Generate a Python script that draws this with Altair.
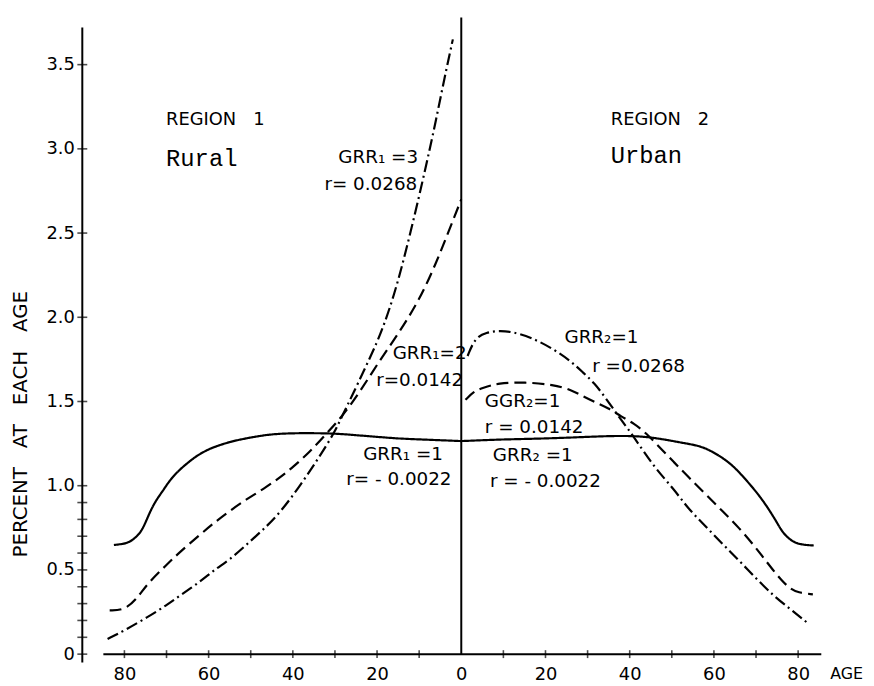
import altair as alt
import pandas as pd

# ---------------- data ----------------
# Region 1 (rural): ages counted leftwards from 0
r1_grr1_age = [82.5, 80, 78.5, 77, 76, 75, 74, 73, 72, 70.6, 69, 66.7, 64.5, 62.8, 60.5, 58.9, 55, 51, 45.5, 40,
               35, 30, 25, 20, 15, 10, 5, 0]
r1_grr1_pct = [0.648, 0.655, 0.669, 0.70, 0.73, 0.78, 0.84, 0.89, 0.93, 0.98, 1.04, 1.10, 1.145, 1.178, 1.21,
               1.228, 1.261, 1.282, 1.306, 1.312, 1.312, 1.31, 1.30, 1.29, 1.28, 1.275, 1.27, 1.265]

r1_grr2_age = [83.5, 80, 77, 74.5, 70, 66.7, 62, 58.7, 55, 51, 47, 43, 40, 36, 32, 28, 24, 20, 15, 10, 6, 3, 0]
r1_grr2_pct = [0.26, 0.26, 0.33, 0.42, 0.53, 0.61, 0.71, 0.78, 0.85, 0.92, 0.98, 1.05, 1.11, 1.20, 1.31, 1.42,
               1.56, 1.72, 1.90, 2.10, 2.32, 2.51, 2.70]

r1_grr3_age = [84, 80, 74.5, 70, 66.7, 62, 58.7, 55, 51, 47, 43, 38, 34, 30, 28, 26, 23, 20, 18, 16, 14, 12, 10,
               8, 6, 4, 2]
r1_grr3_pct = [0.09, 0.14, 0.22, 0.29, 0.35, 0.43, 0.50, 0.56, 0.65, 0.74, 0.84, 1.01, 1.16, 1.32, 1.43, 1.53,
               1.69, 1.85, 1.98, 2.13, 2.31, 2.51, 2.72, 2.94, 3.17, 3.42, 3.65]

# Region 2 (urban): ages counted rightwards from 0
r2_neg_age = [0, 5, 10, 20, 30, 35, 40.9, 45, 48.8, 52, 56.6, 59, 61.3, 64, 66, 68.5, 70.7, 72.5, 73.9, 75, 76.2,
              77.8, 79.4, 81.5, 83.7]
r2_neg_pct = [1.265, 1.27, 1.275, 1.28, 1.29, 1.295, 1.296, 1.287, 1.272, 1.257, 1.237, 1.21, 1.178, 1.13, 1.08,
              1.01, 0.943, 0.88, 0.825, 0.78, 0.727, 0.685, 0.659, 0.648, 0.645]

r2_mid_age = [1, 3, 5, 8.8, 15, 22, 26, 29, 32.3, 35, 38, 41, 44, 47, 50.5, 54, 58, 62, 66, 70, 72, 74, 76, 78,
              80, 83.5]
r2_mid_pct = [1.51, 1.56, 1.58, 1.61, 1.615, 1.60, 1.57, 1.53, 1.49, 1.46, 1.41, 1.37, 1.31, 1.23, 1.14, 1.05,
              0.95, 0.85, 0.75, 0.63, 0.565, 0.50, 0.44, 0.39, 0.365, 0.355]

r2_high_age = [1.5, 3.3, 6, 8.8, 12, 16.7, 22, 26, 29, 31.6, 34, 36, 38, 41, 45.8, 50.5, 54, 58, 62, 66, 70, 74,
               78, 82]
r2_high_pct = [1.77, 1.88, 1.91, 1.92, 1.915, 1.88, 1.81, 1.74, 1.67, 1.61, 1.53, 1.46, 1.39, 1.29, 1.11, 0.98,
               0.86, 0.76, 0.655, 0.555, 0.45, 0.35, 0.27, 0.19]

x_tick_labels = [-80, -60, -40, -20, 0, 20, 40, 60, 80]
x_minor_ticks = [-80, -70, -60, -50, -40, -30, -20, -10, 10, 20, 30, 40, 50, 60, 70, 80]
y_tick_labels = [0, 0.5, 1.0, 1.5, 2.0, 2.5, 3.0, 3.5]
y_minor_ticks = [0, 0.1, 0.2, 0.3, 0.4, 0.5, 0.6, 0.7, 0.8, 0.9, 1.0, 1.5, 2.0, 2.5, 3.0, 3.5]

NB = "\u00a0"
region_labels = ["REGION" + NB * 3 + "1", "REGION" + NB * 3 + "2"]
region_x = [-70.1, 35.5]
region_y = [3.17, 3.17]

sans_labels = ["GRR\u2081 =3", "r= 0.0268", "GRR\u2081=2", "r=0.0142",
               "GRR\u2081 =1", "r= - 0.0022", "GGR\u2082=1", "r = 0.0142", "GRR\u2082 =1", "r = - 0.0022",
               "GRR\u2082=1", "r =0.0268"]
sans_x = [-29.2, -32.5, -16.3, -20.2, -23.3, -27.3, 5.6, 5.6, 7.5, 6.8, 24.5, 31.1]
sans_y = [2.95, 2.79, 1.79, 1.63, 1.19, 1.04, 1.50, 1.35, 1.18, 1.03, 1.88, 1.71]

mono_labels = ["Rural", "Urban"]
mono_x = [-70.1, 35.5]
mono_y = [2.94, 2.96]

y_title = NB.join(["PERCENT", "", "", "AT", "", "", "EACH", "", "", "AGE"])

# ---------------- tables ----------------
rows = []
def add(curve, style, sign, ages, vals):
    for a, v in zip(ages, vals):
        rows.append({"curve": curve, "style": style, "x": sign * a, "y": v})

add("r1_1", "solid", -1, r1_grr1_age, r1_grr1_pct)
add("r1_2", "dashed", -1, r1_grr2_age, r1_grr2_pct)
add("r1_3", "dashdot", -1, r1_grr3_age, r1_grr3_pct)
add("r2_1", "solid", 1, r2_neg_age, r2_neg_pct)
add("r2_2", "dashed", 1, r2_mid_age, r2_mid_pct)
add("r2_3", "dashdot", 1, r2_high_age, r2_high_pct)
curves = pd.DataFrame(rows)

FONT = "DejaVu Sans"
MONO = "Liberation Mono"

xscale = alt.Scale(domain=[-90, 90], nice=False, zero=False)
yscale = alt.Scale(domain=[0, 3.8], nice=False, zero=False)

xaxis = alt.Axis(values=x_tick_labels, labelExpr="abs(datum.value)", domain=False, ticks=False,
                 tickSize=0, grid=False, labelFont=FONT, labelFontSize=18, labelPadding=12,
                 labelColor="black", labelFlush=False, title=None)
yaxis = alt.Axis(values=y_tick_labels,
                 labelExpr="datum.value == 0 ? '0' : format(datum.value, '.1f')",
                 domain=False, ticks=False, tickSize=0, grid=False, labelFont=FONT,
                 labelFontSize=18, labelPadding=8, labelColor="black", labelFlush=False, title=None)

X = alt.X("x:Q", scale=xscale, axis=xaxis, title=None)
Y = alt.Y("y:Q", scale=yscale, axis=yaxis, title=None)

lines = alt.Chart(curves).mark_line(interpolate="basis", color="black", strokeWidth=2.2).encode(
    x=X, y=Y,
    strokeDash=alt.StrokeDash("style:N", legend=None,
                              scale=alt.Scale(domain=["solid", "dashed", "dashdot"],
                                              range=[[1, 0], [12, 6], [12, 4, 2, 4]])),
    detail="curve:N",
)

y_axis_line = alt.Chart().mark_rule(color="black", strokeWidth=2).encode(
    x=alt.datum(-90), y=alt.datum(-0.05), y2=alt.datum(3.72))
x_axis_line = alt.Chart().mark_rule(color="black", strokeWidth=2).encode(
    x=alt.datum(-85), x2=alt.datum(85.5), y=alt.datum(0))
mid_line = alt.Chart().mark_rule(color="black", strokeWidth=2).encode(
    x=alt.datum(0), y=alt.datum(0), y2=alt.datum(3.78))

xt = alt.Chart(pd.DataFrame({"x": x_minor_ticks, "y": [0] * len(x_minor_ticks)})).mark_tick(
    orient="vertical", size=8, thickness=1.6, color="black").encode(x=X, y=Y)
yt = alt.Chart(pd.DataFrame({"y": y_minor_ticks, "x": [-90] * len(y_minor_ticks)})).mark_tick(
    orient="horizontal", size=10, thickness=1.6, color="black").encode(x=X, y=Y)

regions = alt.Chart(pd.DataFrame({"t": region_labels, "x": region_x, "y": region_y})).mark_text(
    align="left", baseline="middle", font=FONT, fontSize=18, color="black").encode(x=X, y=Y, text="t:N")
sans = alt.Chart(pd.DataFrame({"t": sans_labels, "x": sans_x, "y": sans_y})).mark_text(
    align="left", baseline="middle", font=FONT, fontSize=18.5, color="black").encode(x=X, y=Y, text="t:N")
mono = alt.Chart(pd.DataFrame({"t": mono_labels, "x": mono_x, "y": mono_y})).mark_text(
    align="left", baseline="middle", font=MONO, fontSize=24, color="black").encode(x=X, y=Y, text="t:N")

ytitle = alt.Chart().mark_text(angle=270, align="center", baseline="middle", font=FONT, fontSize=20,
                               color="black").encode(
    x=alt.value(-62), y=alt.datum(1.365), text=alt.value(y_title))
xtitle = alt.Chart().mark_text(align="left", baseline="middle", font=FONT, fontSize=16,
                               color="black").encode(
    x=alt.datum(87.6), y=alt.datum(-0.12), text=alt.value("AGE"))

chart = alt.layer(lines, y_axis_line, x_axis_line, mid_line, xt, yt, regions, sans, mono, ytitle,
                  xtitle).properties(
    width=765, height=646,
    background="white",
    autosize=alt.AutoSizeParams(type="none"),
    padding={"left": 75, "top": 3, "right": 26, "bottom": 29},
).configure_view(stroke=None)

chart.save("out.html", embed_options={"renderer": "svg", "actions": False})
